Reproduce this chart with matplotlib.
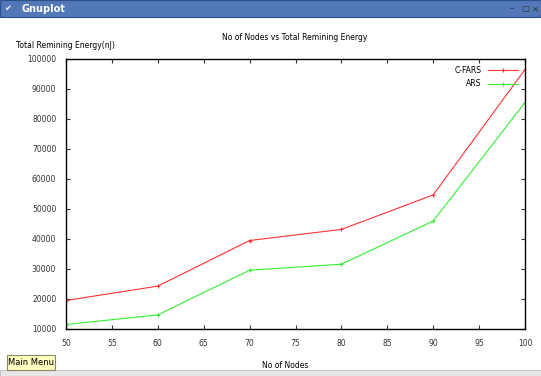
import matplotlib.pyplot as plt
from matplotlib.patches import Rectangle

nodes = [50, 60, 70, 80, 90, 100]
cfars = [19500, 24300, 39500, 43200, 54700, 96500]
ars = [11500, 14700, 29600, 31600, 46000, 85500]
yticks = list(range(10000, 100001, 10000))
xticks = list(range(50, 101, 5))

W, H = 541, 376
fig = plt.figure(figsize=(W / 100, H / 100), dpi=100)
fig.patch.set_facecolor("white")

# window title bar
fig.patches.append(Rectangle((0, 1 - 17 / H), 1, 17 / H, transform=fig.transFigure,
                             facecolor="#5278b8", edgecolor="#2c4f8c", lw=0.8))
fig.text(4 / W, 1 - 9 / H, "\u2714", color="white", fontsize=6, va="center")
fig.text(22 / W, 1 - 9 / H, "Gnuplot", color="white", fontsize=7, fontweight="bold", va="center")
for i, s in enumerate(["\u2013", "\u25a1", "\u2715"]):
    fig.text((510 + i * 11) / W, 1 - 9 / H, s, color="#333333", fontsize=6, va="center")

# bottom status strip and button
fig.patches.append(Rectangle((0, 0), 1, 6 / H, transform=fig.transFigure,
                             facecolor="#e6e6e6", edgecolor="#bbbbbb", lw=0.6))
fig.patches.append(Rectangle((7 / W, 6 / H), 48 / W, 15 / H, transform=fig.transFigure,
                             facecolor="#ffffc0", edgecolor="#888866", lw=0.8))
fig.text(31 / W, 13.5 / H, "Main Menu", fontsize=6, ha="center", va="center")

ax = fig.add_axes([66 / W, 1 - 329 / H, 459 / W, 270 / H])
ax.plot(nodes, cfars, color="#ff3333", lw=0.8, marker="+", ms=3, mew=0.8, label="C-FARS")
ax.plot(nodes, ars, color="#33ee33", lw=0.8, marker="+", ms=3, mew=0.8, label="ARS")

ax.set_xlim(50, 100)
ax.set_ylim(10000, 100000)
ax.set_xticks(xticks)
ax.set_yticks(yticks)
ax.tick_params(direction="in", length=3, width=0.8, labelsize=5.5, colors="#333333",
               top=True, right=True, pad=7)
for sp in ax.spines.values():
    sp.set_linewidth(1.0)

ax.legend(loc="upper right", fontsize=5.5, frameon=False, markerfirst=False,
          handlelength=4, borderaxespad=0.5, labelspacing=0.6)

fig.text(295 / W, 1 - 38 / H, "No of Nodes vs Total Remining Energy", fontsize=5.5, ha="center", va="center")
fig.text(16 / W, 1 - 45 / H, "Total Remining Energy(nJ)", fontsize=5.5, ha="left", va="center")
fig.text(285 / W, 1 - 365 / H, "No of Nodes", fontsize=5.5, ha="center", va="center")

fig.savefig("out.png", dpi=100)
